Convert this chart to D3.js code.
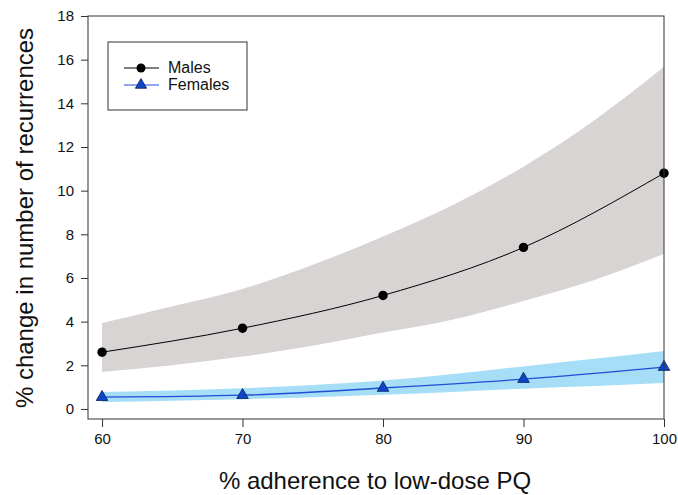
<!DOCTYPE html>
<html>
<head>
<meta charset="utf-8">
<script src="https://cdn.jsdelivr.net/npm/d3@7"></script>
<style>
  body { margin: 0; background: #fff; }
  text { font-family: "Liberation Sans", Arial, sans-serif; }
</style>
</head>
<body>
<div id="chart"></div>
<script>
// point estimates
const adherence = [60, 70, 80, 90, 100];
const males = [2.6, 3.7, 5.2, 7.4, 10.8];
const females = [0.54, 0.63, 0.96, 1.37, 1.92];

// confidence bands, read every 5 %
const bandX = [60, 65, 70, 75, 80, 85, 90, 95, 100];
const malesUpper = [3.94, 4.7, 5.5, 6.6, 7.9, 9.35, 11.1, 13.2, 15.67];
const malesLower = [1.69, 2.0, 2.4, 2.9, 3.5, 4.1, 4.95, 5.9, 7.1];
const femalesUpper = [0.78, 0.85, 0.95, 1.1, 1.3, 1.6, 1.95, 2.3, 2.66];
const femalesLower = [0.32, 0.38, 0.45, 0.54, 0.65, 0.78, 0.93, 1.05, 1.19];

const xTicks = [60, 70, 80, 90, 100];
const yTicks = [0, 2, 4, 6, 8, 10, 12, 14, 16, 18];

const W = 678, H = 495;
const margin = {top: 16, right: 14, bottom: 76, left: 88};
const width = W - margin.left - margin.right;
const height = H - margin.top - margin.bottom;

const svg = d3.select("#chart").append("svg")
  .attr("width", W)
  .attr("height", H)
  .append("g")
  .attr("transform", "translate(" + margin.left + "," + margin.top + ")");

const x = d3.scaleLinear().domain([59, 100]).range([0, width]);
const y = d3.scaleLinear().domain([-0.46, 18]).range([height, 0]);

const area = (lo, hi) => d3.area()
  .curve(d3.curveMonotoneX)
  .x((d, i) => x(bandX[i]))
  .y0((d, i) => y(lo[i]))
  .y1((d, i) => y(hi[i]));

svg.append("path")
  .datum(bandX)
  .attr("fill", "#d9d4d4")
  .attr("d", area(malesLower, malesUpper));

svg.append("path")
  .datum(bandX)
  .attr("fill", "#a6def8")
  .attr("d", area(femalesLower, femalesUpper));

const line = d3.line()
  .curve(d3.curveMonotoneX)
  .x((d, i) => x(adherence[i]))
  .y(d => y(d));

svg.append("path")
  .datum(males)
  .attr("fill", "none")
  .attr("stroke", "#000")
  .attr("stroke-width", 1)
  .attr("d", line);

svg.append("path")
  .datum(females)
  .attr("fill", "none")
  .attr("stroke", "#1f4fd6")
  .attr("stroke-width", 1.3)
  .attr("d", line);

svg.selectAll("circle.m")
  .data(males)
  .join("circle")
  .attr("class", "m")
  .attr("cx", (d, i) => x(adherence[i]))
  .attr("cy", d => y(d))
  .attr("r", 4.7)
  .attr("fill", "#000");

const tri = d3.symbol().type(d3.symbolTriangle).size(58);
svg.selectAll("path.f")
  .data(females)
  .join("path")
  .attr("class", "f")
  .attr("transform", (d, i) => "translate(" + x(adherence[i]) + "," + y(d) + ")")
  .attr("d", tri)
  .attr("fill", "#0d47c8")
  .attr("stroke", "#0a1f5c")
  .attr("stroke-width", 0.8);

// frame
svg.append("rect")
  .attr("width", width)
  .attr("height", height)
  .attr("fill", "none")
  .attr("stroke", "#333")
  .attr("stroke-width", 1);

svg.append("g")
  .attr("transform", "translate(0," + height + ")")
  .call(d3.axisBottom(x).tickValues(xTicks).tickSize(8).tickPadding(6))
  .call(g => g.select(".domain").remove())
  .call(g => g.selectAll("line").attr("stroke", "#333"))
  .selectAll("text")
  .style("font-size", "15px")
  .attr("fill", "#111");

svg.append("g")
  .call(d3.axisLeft(y).tickValues(yTicks).tickSize(7).tickPadding(7))
  .call(g => g.select(".domain").remove())
  .call(g => g.selectAll("line").attr("stroke", "#333"))
  .selectAll("text")
  .style("font-size", "15px")
  .attr("fill", "#111");

// legend
const legend = svg.append("g").attr("transform", "translate(20,26)");
legend.append("rect")
  .attr("width", 139)
  .attr("height", 68)
  .attr("fill", "#fff")
  .attr("stroke", "#333");

const legendItems = [
  {label: "Males", color: "#000", shape: "circle"},
  {label: "Females", color: "#1f4fd6", shape: "triangle"}
];
legendItems.forEach((d, i) => {
  const g = legend.append("g").attr("transform", "translate(0," + (26 + i * 17) + ")");
  g.append("line")
    .attr("x1", 16).attr("x2", 51)
    .attr("stroke", d.color)
    .attr("stroke-width", 1);
  if (d.shape === "circle") {
    g.append("circle").attr("cx", 33).attr("r", 4.5).attr("fill", "#000");
  } else {
    g.append("path")
      .attr("transform", "translate(33,0)")
      .attr("d", d3.symbol().type(d3.symbolTriangle).size(55))
      .attr("fill", "#0d47c8")
      .attr("stroke", "#0a1f5c")
      .attr("stroke-width", 0.8);
  }
  g.append("text")
    .attr("x", 60)
    .attr("dy", "0.3em")
    .style("font-size", "16px")
    .attr("fill", "#111")
    .text(d.label);
});

// axis titles
svg.append("text")
  .attr("x", 287)
  .attr("y", 473)
  .attr("text-anchor", "middle")
  .style("font-size", "24px")
  .attr("fill", "#111")
  .text("% adherence to low-dose PQ");

svg.append("text")
  .attr("transform", "rotate(-90)")
  .attr("x", -202)
  .attr("y", -55)
  .attr("text-anchor", "middle")
  .style("font-size", "24px")
  .attr("fill", "#111")
  .text("% change in number of recurrences");
</script>
</body>
</html>
